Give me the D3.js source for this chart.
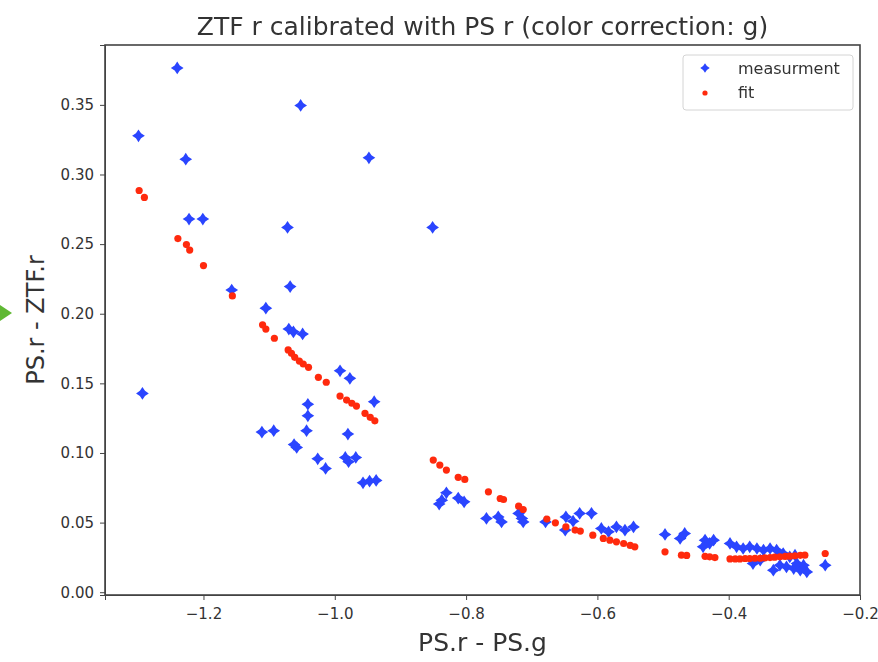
<!DOCTYPE html>
<html>
<head>
<meta charset="utf-8">
<script src="https://d3js.org/d3.v7.min.js"></script>
<style>
  body { margin: 0; background: #fff; }
  text { font-family: "DejaVu Sans", sans-serif; fill: #333; }
  .axis path, .axis line { stroke: #444; }
</style>
</head>
<body>
<div id="chart"></div>
<script>
// measurement points (PS.r - PS.g, PS.r - ZTF.r)
var measX = [-1.240, -1.052, -1.299, -1.227, -0.948, -1.222, -1.201, -1.072, -0.851, -1.157,
  -1.068, -1.105, -1.070, -1.063, -1.049, -1.293, -0.992, -0.977, -0.940, -1.041,
  -1.041, -1.111, -1.093, -1.043, -0.980, -1.062, -1.058, -1.026, -1.014, -0.984,
  -0.979, -0.968, -0.957, -0.947, -0.937, -0.841, -0.837, -0.830, -0.812, -0.803,
  -0.769, -0.751, -0.746, -0.720, -0.715, -0.713, -0.679, -0.648, -0.649, -0.637,
  -0.627, -0.609, -0.594, -0.583, -0.571, -0.558, -0.545, -0.497, -0.474, -0.467,
  -0.436, -0.429, -0.439, -0.423, -0.398, -0.388, -0.378, -0.368, -0.357, -0.347,
  -0.337, -0.327, -0.363, -0.352, -0.332, -0.322, -0.312, -0.301, -0.291, -0.281,
  -0.286, -0.296, -0.253, -0.317, -0.307, -0.299];
var measY = [0.3765, 0.3496, 0.3278, 0.311, 0.312, 0.268, 0.268, 0.262, 0.262, 0.217,
  0.2195, 0.204, 0.189, 0.187, 0.1855, 0.1428, 0.159, 0.1536, 0.1368, 0.135,
  0.1267, 0.115, 0.116, 0.116, 0.1136, 0.106, 0.104, 0.0958, 0.0889, 0.0968,
  0.0937, 0.0968, 0.0786, 0.0798, 0.0803, 0.0633, 0.0661, 0.0714, 0.0676, 0.0649,
  0.053, 0.0541, 0.0505, 0.0566, 0.053, 0.0505, 0.0505, 0.0541, 0.0446, 0.051,
  0.0566, 0.0566, 0.0458, 0.0434, 0.0469, 0.0446, 0.0469, 0.0415, 0.0386, 0.0422,
  0.0374, 0.035, 0.0326, 0.0374, 0.035, 0.0326, 0.0314, 0.0326, 0.0314, 0.0302,
  0.0314, 0.0302, 0.0206, 0.023, 0.0158, 0.0194, 0.0182, 0.017, 0.0158, 0.0146,
  0.0194, 0.0206, 0.0194, 0.0278, 0.0254, 0.0266];

// fit points
var fitX = [-1.298, -1.290, -1.239, -1.226, -1.221, -1.200, -1.156, -1.110, -1.105, -1.092,
  -1.071, -1.066, -1.061, -1.054, -1.048, -1.040, -1.025, -1.013,
  -0.992, -0.982, -0.974, -0.967, -0.954, -0.946, -0.939,
  -0.850, -0.840, -0.830, -0.812, -0.802,
  -0.766, -0.748, -0.743, -0.720, -0.713, -0.677, -0.664,
  -0.648, -0.634, -0.626, -0.607, -0.591, -0.581, -0.571, -0.560, -0.550, -0.543,
  -0.497, -0.472, -0.464, -0.436, -0.429, -0.421,
  -0.398, -0.390, -0.383, -0.375, -0.368, -0.360, -0.352, -0.345, -0.337, -0.330,
  -0.322, -0.314, -0.307, -0.299, -0.291, -0.284, -0.253];
var fitY = [0.2885, 0.2835, 0.254, 0.2497, 0.2457, 0.2346, 0.2128, 0.192, 0.189, 0.1824,
  0.174, 0.1716, 0.1687, 0.166, 0.1639, 0.1615, 0.1543, 0.1508,
  0.1409, 0.138, 0.1357, 0.1337, 0.1285, 0.1256, 0.1231,
  0.0949, 0.0913, 0.0877, 0.0825, 0.081,
  0.0721, 0.0673, 0.0666, 0.0618, 0.0594, 0.0525, 0.0498,
  0.0469, 0.0446, 0.0439, 0.041, 0.0386, 0.0374, 0.0362, 0.035, 0.0336, 0.0326,
  0.029, 0.0266, 0.0264, 0.0258, 0.0254, 0.0249,
  0.0239, 0.0239, 0.0239, 0.0242, 0.0242, 0.0244, 0.0244, 0.0246, 0.0249, 0.0252,
  0.0254, 0.0257, 0.0259, 0.0262, 0.0265, 0.0266, 0.0278];

var xTicks = [-1.2, -1.0, -0.8, -0.6, -0.4, -0.2];
var yTicks = [0, 0.05, 0.10, 0.15, 0.20, 0.25, 0.30, 0.35];

var width = 878, height = 662;
var margin = {top: 45, right: 18, bottom: 67, left: 105};

var svg = d3.select("#chart").append("svg")
    .attr("width", width)
    .attr("height", height);

var x = d3.scaleLinear().domain([-1.35, -0.2]).range([margin.left, width - margin.right]);
var y = d3.scaleLinear().domain([-0.002, 0.393]).range([height - margin.bottom, margin.top]);

var defs = svg.append("defs");
defs.append("filter").attr("id", "soft")
  .append("feGaussianBlur").attr("stdDeviation", 0.6);

// 4 point star used for the measurement markers
var star4 = {
  draw: function(ctx, size) {
    var r = Math.sqrt(size) * 0.75, k = r * 0.4;
    ctx.moveTo(0, -r);
    ctx.lineTo(k, -k);
    ctx.lineTo(r, 0);
    ctx.lineTo(k, k);
    ctx.lineTo(0, r);
    ctx.lineTo(-k, k);
    ctx.lineTo(-r, 0);
    ctx.lineTo(-k, -k);
    ctx.closePath();
  }
};

// axes
svg.append("g")
    .attr("class", "axis")
    .attr("transform", "translate(0," + (height - margin.bottom) + ")")
    .call(d3.axisBottom(x).tickValues(xTicks).tickFormat(d3.format(".1f")).tickSizeOuter(0).tickSize(5).tickPadding(8))
    .call(g => g.selectAll("text").style("font-size", "15px"));

svg.append("g")
    .attr("class", "axis")
    .attr("transform", "translate(" + margin.left + ",0)")
    .call(d3.axisLeft(y).tickValues(yTicks).tickFormat(d3.format(".2f")).tickSizeOuter(0).tickSize(5).tickPadding(6))
    .call(g => g.selectAll("text").style("font-size", "15px"));

// frame
svg.append("rect")
    .attr("x", margin.left)
    .attr("y", margin.top)
    .attr("width", width - margin.left - margin.right)
    .attr("height", height - margin.top - margin.bottom)
    .attr("fill", "none")
    .attr("stroke", "#444")
    .attr("stroke-width", 1.6);

var meas = measX.map((v, i) => ({x: v, y: measY[i]}));
var fit = fitX.map((v, i) => ({x: v, y: fitY[i]}));

var marks = svg.append("g").attr("filter", "url(#soft)");

marks.selectAll(".meas")
    .data(meas)
    .enter().append("path")
    .attr("class", "meas")
    .attr("transform", d => "translate(" + x(d.x) + "," + y(d.y) + ")")
    .attr("d", d3.symbol().type(star4).size(72))
    .attr("fill", "#2a45ff");

marks.selectAll(".fit")
    .data(fit)
    .enter().append("circle")
    .attr("class", "fit")
    .attr("cx", d => x(d.x))
    .attr("cy", d => y(d.y))
    .attr("r", 3.6)
    .attr("fill", "#ff2a10");

// legend
var lg = svg.append("g").attr("transform", "translate(683,55)");
lg.append("rect")
    .attr("width", 170).attr("height", 55).attr("rx", 3)
    .attr("fill", "#fff").attr("stroke", "#d4d4d4");
lg.append("path")
    .attr("transform", "translate(22,13)")
    .attr("d", d3.symbol().type(star4).size(40))
    .attr("fill", "#2a45ff").attr("filter", "url(#soft)");
lg.append("circle")
    .attr("cx", 22).attr("cy", 38).attr("r", 2.6)
    .attr("fill", "#ff2a10").attr("filter", "url(#soft)");
lg.append("text").attr("x", 55).attr("y", 19).style("font-size", "16px").text("measurment");
lg.append("text").attr("x", 55).attr("y", 43).style("font-size", "16px").text("fit");

// titles
svg.append("text")
    .attr("x", (margin.left + width - margin.right) / 2)
    .attr("y", 35)
    .attr("text-anchor", "middle")
    .style("font-size", "25px")
    .text("ZTF r calibrated with PS r (color correction: g)");

svg.append("text")
    .attr("x", (margin.left + width - margin.right) / 2)
    .attr("y", 651)
    .attr("text-anchor", "middle")
    .style("font-size", "25px")
    .text("PS.r - PS.g");

svg.append("text")
    .attr("transform", "translate(44," + ((margin.top + height - margin.bottom) / 2) + ") rotate(-90)")
    .attr("text-anchor", "middle")
    .style("font-size", "24px")
    .text("PS.r - ZTF.r");

// small green pointer at the left edge
svg.append("path")
    .attr("d", "M0,305 L12,313 L0,321 Z")
    .attr("fill", "#5fb833");
</script>
</body>
</html>
